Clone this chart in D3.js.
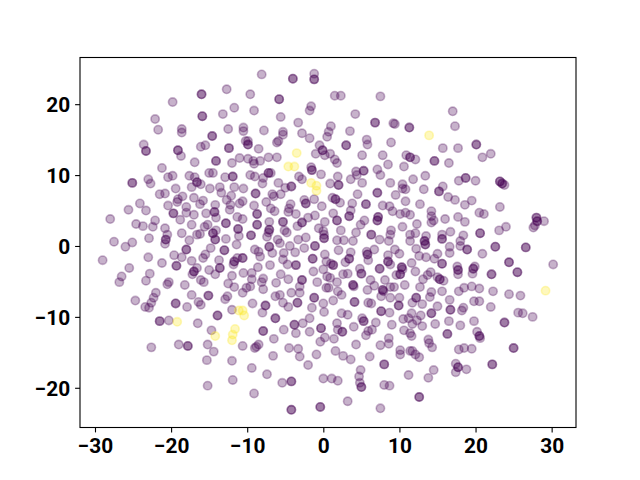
<!DOCTYPE html>
<html>
<head>
<meta charset="utf-8">
<script src="https://cdn.jsdelivr.net/npm/d3@7"></script>
<style>
    body { margin: 0; background: #fff; }
    text { font-family: Roboto, sans-serif; }
</style>
</head>
<body>
<div id="chart"></div>
<script>
// points, [x, y]
var purplePoints = [
[-12.7,22.1],[-19.8,20.3],[-11.7,19.5],[-13.2,18.6],[-22.1,17.9],[-21.7,16.4],[-18.6,16.5],[-18.6,16.0],[-12.5,16.5],[-10.5,16.7],[-10.5,16.2],
[-23.6,14.3],[-18.7,12.7],[-16.1,14.0],[-15.5,14.2],[-10.2,14.8],[-16.9,11.8],[-12.0,11.7],[-11.0,12.4],[-21.2,11.0],[-23.0,9.4],[-22.7,8.8],
[-20.4,9.7],[-19.8,9.9],[-17.6,9.9],[-16.9,9.7],[-16.1,8.7],[-15.0,10.3],[-14.5,10.3],[-12.9,9.7],[-17.3,8.3],[-19.4,8.1],[-14.9,8.1],[-13.6,8.3],
[-13.4,7.5],[-11.7,8.3],[-10.5,8.1],[-21.5,7.3],[-20.8,7.4],[-18.5,7.0],[-19.1,6.6],[-19.2,6.2],[-17.0,6.8],[-15.8,6.4],[-16.2,5.9],[-20.4,5.7],
[-24.1,6.0],[-25.6,5.1],[-23.3,5.0],[-18.0,5.5],[-18.0,4.7],[-17.0,4.4],[-14.2,5.8],[-15.4,4.6],[-14.1,4.0],[-12.1,7.1],[-12.7,6.5],[-12.2,5.8],
[-12.3,5.1],[-11.0,6.0],[-10.6,6.3],[-11.3,4.1],[-10.6,3.8],[-28.0,3.8],[-22.1,3.6],[-18.8,3.7],[-24.6,3.1],[-23.7,2.8],[-22.4,2.7],[-17.3,3.0],
[-15.2,3.0],[-15.6,2.7],[-20.8,2.5],[-18.6,1.8],[-20.5,1.6],[-16.6,1.6],[-16.2,1.7],[-14.1,2.2],[-11.1,1.4],[-22.9,1.1],[-17.6,0.8],[-12.8,1.0],
[-27.5,0.6],[-25.1,0.5],
[-8.1,24.2],[-1.2,24.3],[-9.6,21.4],[1.5,21.2],[2.3,21.2],[7.5,21.1],[-9.1,19.1],[-1.6,19.7],[-1.8,19.1],[-5.6,18.2],[4.2,18.6],[-3.3,17.4],
[9.2,17.3],[9.4,17.2],[1.0,16.9],[0.7,16.1],[0.5,15.4],[-7.8,16.3],[-5.3,16.1],[-5.3,15.7],[-2.8,15.9],[-1.8,15.2],[3.5,16.2],[-5.9,14.8],[-6.1,14.6],
[5.7,15.0],[5.8,14.3],[8.9,14.6],[-9.9,14.8],[-8.5,13.7],[-0.5,14.2],[0.2,12.8],[-1.0,13.0],[0.9,13.0],[1.5,12.2],[1.8,11.7],[5.1,12.8],[7.8,12.8],
[8.5,11.5],[10.9,12.8],[10.6,11.2],[-9.9,12.3],[-9.2,12.0],[-9.1,11.6],[-8.3,12.0],[-7.2,12.5],[-6.1,12.5],[-1.6,11.1],[-0.3,10.1],[-3.2,9.8],[-2.8,9.4],
[1.9,9.8],[4.3,10.5],[4.4,10.0],[7.1,10.8],[7.5,10.0],[-9.6,10.0],[-9.0,9.8],[-6.9,10.3],[-7.9,9.6],[-8.0,8.8],[-5.9,8.9],[3.6,9.4],[5.1,8.9],[0.9,8.8],
[8.8,8.9],[10.4,8.7],[10.8,8.0],[10.4,8.1],[-5.0,8.2],[-5.6,7.3],[-6.7,7.3],[-6.5,7.0],[4.5,7.3],[9.5,7.2],[-1.2,6.6],[-2.5,6.5],[1.2,6.8],[2.2,6.1],
[3.8,6.0],[7.8,5.7],[8.7,5.6],[9.1,4.9],[10.8,6.3],[-9.1,5.7],[-7.5,6.2],[-6.9,5.3],[-6.4,4.9],[-4.3,5.9],[-4.5,5.3],[-4.6,4.8],[-0.2,5.6],[-3.6,4.5],
[3.6,5.0],[1.3,4.6],[10.1,4.5],[10.8,4.7],[11.4,4.4],[-1.1,4.3],[-2.0,4.0],[0.2,3.4],[5.4,3.6],[4.9,3.0],[-7.1,3.4],[-3.4,2.8],[-0.6,2.5],[0.0,2.1],
[0.1,1.6],[2.3,2.2],[4.3,1.9],[10.4,2.7],[8.9,2.2],[8.8,1.6],[-7.2,1.9],[-5.1,2.2],[-4.8,1.9],[-7.4,1.3],[-6.0,0.9],[-2.3,1.2],[-3.3,0.9],[2.7,0.8],
[1.8,0.8],[3.9,0.7],[7.4,0.9],[8.6,0.7],[11.4,0.7],
[17.0,19.0],[17.3,16.9],[15.7,13.8],[17.7,13.8],[20.9,12.5],[22.0,13.0],[12.1,12.2],[16.5,11.7],[11.8,9.4],[13.4,9.9],[17.8,9.2],[20.0,9.2],[23.8,8.6],
[15.7,8.4],[13.2,8.0],[16.4,6.9],[17.3,6.5],[19.5,6.4],[18.6,5.8],[12.7,5.9],[23.2,5.5],[20.5,4.7],[21.1,4.5],[14.2,4.9],[14.2,4.2],[14.2,3.3],[14.5,3.6],
[16.0,3.8],[17.7,4.1],[18.6,3.4],[12.3,3.1],[29.0,3.5],[27.8,2.9],[27.6,2.6],[24.0,2.7],[23.1,2.2],[18.4,1.5],[16.7,2.0],[15.6,1.6],[13.5,1.4],[12.1,1.8],
[11.4,1.6],[18.0,0.7],
[-26.0,-0.1],[-20.8,0.3],[-29.0,-2.0],[-23.0,-1.6],[-25.5,-3.1],[-21.2,-2.4],[-19.6,-1.3],[-18.6,-1.6],[-17.3,-2.1],[-16.6,-3.1],[-17.2,-4.0],[-15.5,-1.2],
[-15.8,-1.7],[-14.8,-0.3],[-11.4,0.2],[-13.7,-2.0],[-15.0,-3.4],[-14.2,-4.0],[-11.3,-1.7],[-11.8,-2.6],[-26.5,-4.3],[-26.8,-5.1],[-22.8,-3.9],[-23.3,-4.9],
[-20.3,-5.1],[-20.5,-5.4],[-18.2,-5.5],[-16.1,-4.8],[-15.7,-5.1],[-12.0,-4.2],[-12.5,-5.3],[-11.7,-5.8],[-10.5,-3.8],[-17.3,-6.9],[-12.6,-7.1],[-12.9,-7.5],
[-10.6,-6.6],[-22.0,-6.6],[-22.3,-7.3],[-22.6,-8.0],[-22.9,-8.7],[-23.4,-8.6],[-24.7,-7.7],[-17.9,-8.6],[-16.4,-7.9],[-16.1,-8.3],[-12.0,-9.0],[-20.3,-10.5],
[-16.5,-10.9],[-14.7,-11.9],[-22.6,-14.3],[-19.0,-13.9],[-15.2,-13.9],[-14.4,-14.9],[-10.6,-14.1],[-15.3,-16.1],[-12.0,-16.2],[-15.2,-19.7],[-11.9,-18.9],
[-8.5,-0.8],[-9.0,-0.5],[-8.3,-1.5],[-5.7,0.4],[-6.7,-1.0],[-5.2,-1.0],[-3.7,-0.9],[-2.5,-0.3],[-4.4,0.0],[-5.3,-1.9],[-4.7,-2.6],[-7.0,-2.7],[-8.6,-3.0],
[0.2,-1.2],[0.4,-2.2],[1.0,-2.5],[-1.3,-3.6],[0.0,-3.3],[2.0,-0.6],[3.6,-0.9],[2.9,-2.3],[5.7,-0.8],[5.9,-2.0],[6.7,-0.5],[8.5,-1.3],[8.8,-2.6],[9.4,-0.5],
[10.0,-1.1],[4.8,-3.2],[10.4,-3.3],[9.6,-4.1],[2.6,-4.0],[3.2,-3.9],[-5.6,-4.0],[-4.6,-4.7],[-3.1,-5.7],[-9.4,-3.8],[-9.4,-4.7],[-7.9,-4.6],[-8.1,-5.1],
[-7.9,-6.1],[-9.6,-5.7],[-10.1,-5.9],[-6.2,-5.2],[-0.8,-5.1],[0.5,-4.3],[0.9,-4.5],[1.8,-5.1],[4.0,-5.7],[6.2,-4.8],[6.7,-5.6],[8.1,-4.8],[5.8,-6.2],[7.9,-6.4],
[8.8,-5.8],[9.3,-5.8],[10.7,-5.5],[0.4,-5.9],[0.7,-5.9],[1.9,-6.4],[2.4,-6.9],[-4.2,-6.6],[-3.1,-6.6],[-5.7,-6.9],[-6.3,-7.1],[10.0,-7.3],[7.6,-7.1],[8.8,-7.3],
[-5.3,-8.0],[-4.6,-8.6],[0.0,-8.1],[1.3,-7.7],[5.9,-8.0],[6.3,-8.1],[-9.3,-8.1],[-1.5,-8.7],[0.1,-9.3],[-8.0,-9.4],[2.4,-9.5],[3.2,-9.7],[8.7,-9.4],[5.1,-10.2],
[10.5,-10.3],[11.2,-10.2],[-1.8,-10.2],[-2.7,-10.9],[6.9,-10.8],[9.0,-11.1],[1.8,-10.9],[4.0,-11.4],[5.9,-12.0],[6.4,-11.8],[5.6,-12.6],[-5.2,-11.8],[-3.6,-12.3],
[-1.8,-12.1],[1.9,-11.8],[10.6,-11.9],[11.4,-12.3],[-6.5,-13.1],[0.2,-12.9],[-0.4,-13.5],[1.4,-13.1],[8.6,-13.0],[8.6,-13.8],[7.5,-14.0],[4.3,-13.9],[-8.5,-13.9],
[-8.8,-14.2],[-9.0,-14.4],[-4.5,-14.4],[-3.3,-14.5],[-3.1,-15.6],[1.6,-14.8],[-0.9,-15.3],[-6.6,-15.5],[2.6,-15.5],[3.6,-16.0],[6.1,-15.6],[10.1,-14.7],[10.1,-15.3],
[11.4,-14.8],[-2.0,-16.8],[-9.4,-17.2],[4.9,-17.5],[4.7,-18.4],[-7.4,-18.1],[0.0,-18.7],[1.1,-18.7],[1.9,-19.0],[-5.4,-19.3],[4.8,-19.3],[8.0,-19.6],[8.7,-19.7],
[11.2,-18.2],[-9.1,-20.8],[3.2,-21.9],[7.5,-22.9],
[12.2,-0.4],[16.6,-0.1],[18.0,0.0],[16.6,-1.0],[20.9,-1.1],[12.6,-1.4],[13.5,-1.6],[15.0,-1.1],[14.6,-1.8],[11.6,-2.4],[17.6,-2.9],[17.7,-4.0],[19.9,-2.9],[19.6,-3.9],
[30.2,-2.6],[12.1,-3.6],[14.1,-3.7],[13.7,-4.1],[13.1,-4.7],[15.0,-4.4],[15.8,-4.9],[12.7,-5.8],[18.5,-5.9],[19.5,-5.7],[20.5,-6.0],[17.8,-6.4],[22.3,-6.4],[15.6,-6.4],
[14.2,-6.5],[24.4,-6.8],[25.9,-7.0],[14.0,-7.2],[11.7,-8.0],[13.0,-8.2],[16.6,-7.6],[19.8,-7.8],[20.5,-7.8],[22.0,-8.6],[15.0,-8.5],[18.4,-8.7],[18.2,-9.1],[12.8,-9.8],
[11.6,-9.5],[12.3,-10.5],[11.7,-11.0],[13.0,-11.3],[14.7,-11.0],[16.5,-10.6],[18.0,-11.2],[19.8,-10.6],[25.6,-9.4],[26.2,-9.5],[27.5,-10.0],[20.2,-12.1],[20.6,-13.0],
[11.6,-12.7],[13.8,-13.2],[13.9,-13.7],[14.3,-14.3],[17.8,-14.6],[18.5,-14.4],[19.5,-14.5],[11.7,-14.8],[12.1,-15.3],[12.6,-15.7],[17.4,-16.6],[17.4,-17.8],[18.8,-17.4],
[14.5,-17.5],[13.8,-18.6]
];

// darker spots, two points sitting on top of each other
var purpleDoubles = [
[-16.0,21.4],[-15.9,18.3],[-14.6,15.5],[-23.3,13.4],[-19.1,13.5],[-12.4,13.8],[-14.1,12.0],[-25.1,8.9],[-16.6,9.0],[-11.9,9.8],[-19.7,4.6],[-14.3,4.8],[-12.8,3.2],
[-20.7,0.9],[-14.5,1.8],[-11.2,2.4],[-14.2,0.9],
[-4.0,23.6],[-1.2,23.5],[-5.8,20.7],[6.8,17.4],[11.3,16.7],[3.0,14.2],[-9.9,14.3],[-0.1,13.5],[-1.5,10.7],[5.3,10.6],[-7.2,10.3],[2.0,8.6],[-4.2,8.4],[-8.9,7.4],[7.1,7.5],
[-2.3,6.0],[1.6,6.6],[5.6,5.9],[3.4,4.2],[-8.7,4.5],[7.2,4.1],[7.1,3.6],[1.8,3.6],[-5.3,3.4],[-2.8,3.3],[-8.7,3.0],[6.3,1.6],[-7.1,2.3],[-9.5,1.5],[0.1,1.1],
[20.1,14.3],[11.4,12.5],[14.6,12.0],[18.7,9.6],[23.2,9.1],[23.5,8.8],[15.2,7.7],[28.0,4.0],[28.1,3.5],[20.6,1.8],[15.6,1.0],[13.3,0.7],
[-18.0,-0.5],[-19.3,-2.8],[-17.0,-3.6],[-13.0,-0.6],[-13.6,-3.1],[-11.7,-2.2],[-10.6,-1.7],[-15.1,-7.0],[-19.4,-8.1],[-13.9,-9.8],[-21.5,-10.6],[-17.8,-14.1],
[-7.1,-0.1],[-1.1,0.0],[-3.6,-2.7],[-1.4,-1.8],[1.3,-2.7],[3.4,-1.8],[5.8,-1.2],[8.5,-2.2],[7.4,-3.2],[5.0,-3.9],[10.3,-3.0],[10.1,-4.0],[-2.8,-4.8],[3.9,-5.5],[7.8,-6.2],
[-1.2,-7.3],[-3.4,-8.0],[4.1,-7.9],[9.9,-8.4],[-7.6,-8.4],[7.6,-9.2],[5.3,-10.6],[-6.3,-10.2],[-3.8,-11.1],[-0.3,-11.6],[-7.9,-12.0],[2.5,-12.1],[8.0,-16.7],[-4.2,-19.1],[5.0,-19.9],
[-0.4,-22.7],[-4.2,-23.1],
[13.4,0.2],[18.9,-0.5],[22.6,-0.1],[26.6,-0.2],[15.6,-2.5],[17.7,-3.4],[19.7,-3.2],[24.4,-2.3],[25.5,-3.7],[22.1,-4.0],[15.3,-4.7],[12.2,-7.3],[16.7,-9.0],[14.2,-9.5],[23.8,-10.8],
[16.3,-12.4],[20.5,-12.7],[25.0,-14.4],[17.7,-17.1],[22.2,-16.7],[12.6,-21.3]
];

var yellowPoints = [
[-3.5,13.1],[-4.6,11.2],[-3.8,11.2],[-1.6,8.9],[-0.9,8.5],[-0.9,7.8],[13.9,15.6],[-11.1,-9.1],[-10.6,-9.1],[-10.4,-9.8],[-19.2,-10.7],[-14.2,-12.7],[-11.6,-11.7],[-11.9,-12.5],[-12.0,-13.3],[29.2,-6.3]
];

var xTicks = [-30, -20, -10, 0, 10, 20, 30],
    yTicks = [-20, -10, 0, 10, 20];

var width = 640, height = 480;

var svg = d3.select("#chart").append("svg")
    .attr("width", width)
    .attr("height", height)
    .style("display", "block");

var x = d3.scaleLinear().domain([-31.97, 33.2]).range([80, 576]),
    y = d3.scaleLinear().domain([-25.56, 26.57]).range([427.2, 57.6]);

function drawPoints(points, color) {
    svg.append("g").selectAll("circle")
        .data(points)
        .enter().append("circle")
        .attr("cx", function (d) { return x(d[0]); })
        .attr("cy", function (d) { return y(d[1]); })
        .attr("r", 4.17)
        .attr("fill", color)
        .attr("fill-opacity", 0.3)
        .attr("stroke", color)
        .attr("stroke-opacity", 0.3)
        .attr("stroke-width", 1.6);
}

drawPoints(purplePoints, "#440154");
drawPoints(purpleDoubles, "#440154");
drawPoints(purpleDoubles, "#440154");
drawPoints(yellowPoints, "#fde725");

// frame
svg.append("rect")
    .attr("x", 80)
    .attr("y", 57.5)
    .attr("width", 496)
    .attr("height", 370)
    .attr("fill", "none")
    .attr("stroke", "#000")
    .attr("stroke-width", 1.1);

var xAxis = svg.append("g")
    .attr("transform", "translate(0,427.5)")
    .call(d3.axisBottom(x).tickValues(xTicks).tickFormat(d3.format("d")).tickSize(4.9).tickPadding(5.9));

var yAxis = svg.append("g")
    .attr("transform", "translate(80,0)")
    .call(d3.axisLeft(y).tickValues(yTicks).tickFormat(d3.format("d")).tickSize(4.9).tickPadding(4.9));

svg.selectAll(".domain").remove();
svg.selectAll(".tick line").attr("stroke", "#000").attr("stroke-width", 1.1);
svg.selectAll(".tick text")
    .attr("fill", "#000")
    .style("font-family", "Roboto, sans-serif")
    .style("font-weight", "700")
    .style("font-size", "20.83px");
yAxis.selectAll(".tick text").attr("dy", "0.35em");
</script>
</body>
</html>
